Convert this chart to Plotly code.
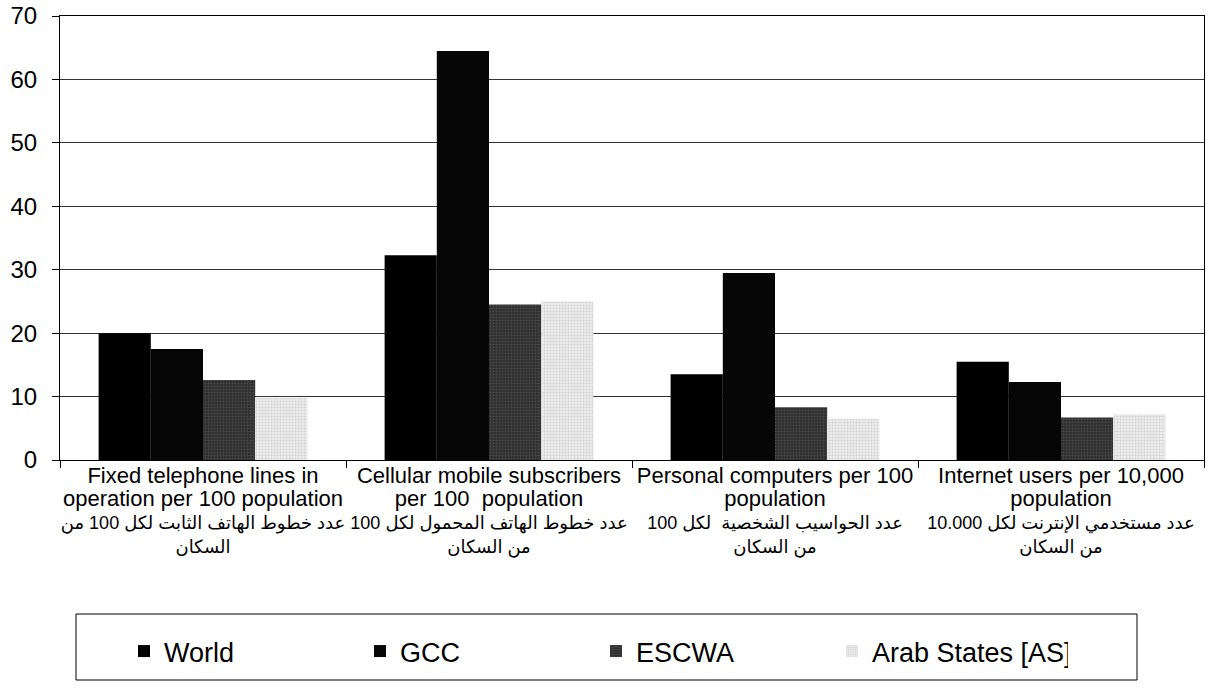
import plotly.graph_objects as go

EN = "<span style='font-size:22px'>{}</span>"
AR = "<span style='font-size:18px'>{}</span>"

label_lines = [
    ["Fixed telephone lines in", "operation per 100 population", "عدد خطوط الهاتف الثابت لكل 100 من", "السكان"],
    ["Cellular mobile subscribers", "per 100  population", "عدد خطوط الهاتف المحمول لكل 100", "من السكان"],
    ["Personal computers per 100", "population", "عدد الحواسيب الشخصية  لكل 100", "من السكان"],
    ["Internet users per 10,000", "population", "عدد مستخدمي الإنترنت لكل 10.000", "من السكان"],
]
cat_ids = ["fixed", "cellular", "pc", "internet"]

world = [20.0, 32.3, 13.5, 15.5]
gcc = [17.5, 64.5, 29.5, 12.3]
escwa = [12.6, 24.5, 8.3, 6.7]
arab_states = [9.8, 25.0, 6.5, 7.2]

categories = [
    "<br>".join([EN.format(l[0]), EN.format(l[1]), AR.format(l[2]), AR.format(l[3])])
    for l in label_lines
]

series = [
    ("World", world, dict(color="#000000")),
    ("GCC", gcc, dict(color="#060606")),
    ("ESCWA", escwa, dict(color="#2e2e2e", pattern=dict(shape=".", fgcolor="#6a6a6a", bgcolor="#2e2e2e", size=3, solidity=0.3))),
    ("Arab States [AS]", arab_states, dict(color="#e4e4e4", pattern=dict(shape=".", fgcolor="#b5b5b5", bgcolor="#ececec", size=3, solidity=0.35))),
]

fig = go.Figure()
for name, vals, mk in series:
    fig.add_trace(go.Bar(
        x=cat_ids, y=vals, name=name,
        marker=dict(line=dict(width=0), **mk),
    ))

L, R, T, B = 60, 11, 16, 233
PW = 1215 - L - R
PH = 693 - T - B

fig.update_layout(
    width=1215, height=693,
    margin=dict(l=L, r=R, t=T, b=B, autoexpand=False),
    paper_bgcolor="white", plot_bgcolor="white",
    barmode="group", bargap=0.27, bargroupgap=0,
    font=dict(family="Liberation Sans, Arial, DejaVu Sans", color="black", size=18),
    showlegend=True,
    legend=dict(
        orientation="h", x=(124 - L) / PW, y=-(627 - (T + PH)) / PH,
        xanchor="left", yanchor="top",
        font=dict(size=27), entrywidth=191, entrywidthmode="pixels",
        bgcolor="rgba(0,0,0,0)", itemclick=False,
    ),
    shapes=[dict(
        type="rect", xref="paper", yref="paper",
        x0=(76 - L) / PW, x1=(1137 - L) / PW,
        y0=-(680 - (T + PH)) / PH, y1=-(614 - (T + PH)) / PH,
        line=dict(color="black", width=1), fillcolor="rgba(0,0,0,0)",
    )],
)

fig.update_xaxes(
    tickmode="array", tickvals=cat_ids, ticktext=categories,
    showline=True, linecolor="black", linewidth=1, mirror=True,
    ticks="outside", tickson="boundaries", ticklen=7, tickcolor="black",
    showgrid=False, tickfont=dict(size=18), tickangle=0, automargin=False,
)
fig.update_yaxes(
    range=[0, 70], dtick=10, tickmode="linear",
    showline=True, linecolor="black", linewidth=1, mirror=True,
    ticks="outside", ticklen=7, tickcolor="black", ticklabelstandoff=10,
    showgrid=True, gridcolor="#333333", gridwidth=1,
    tickfont=dict(size=24), zeroline=False, automargin=False,
)

fig.write_html(
    "out.html",
    config={"displayModeBar": False},
    post_script="document.body.style.margin='0';document.body.style.overflow='hidden';",
)
